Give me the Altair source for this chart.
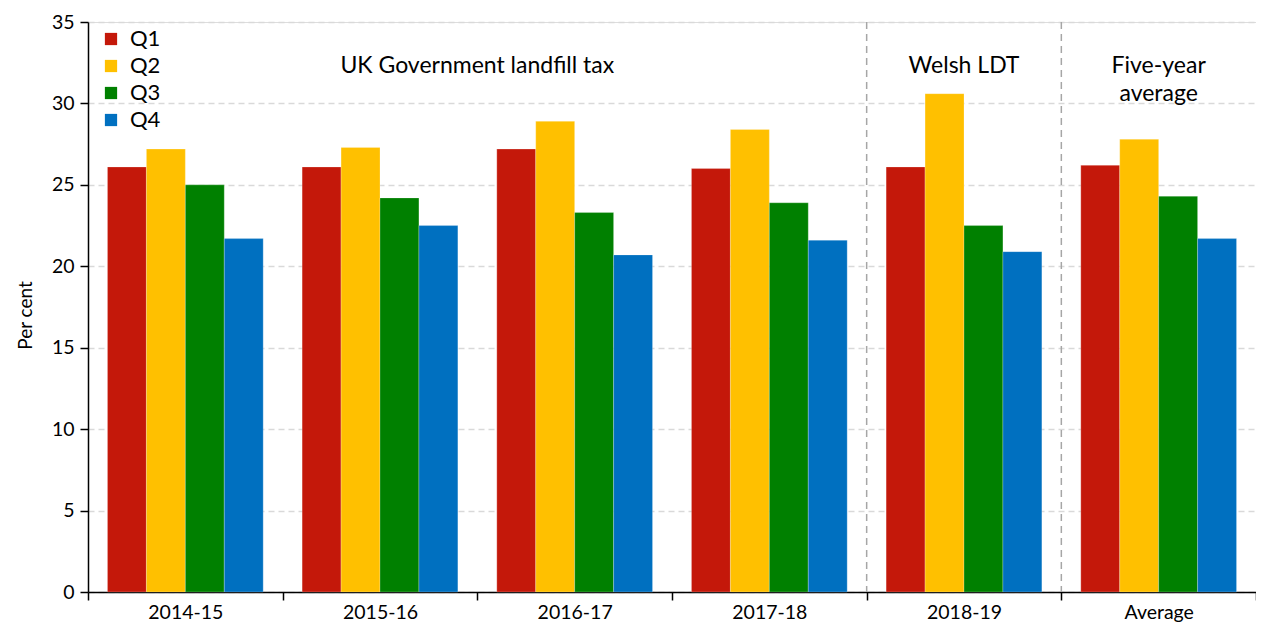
import altair as alt
import pandas as pd

years = ["2014-15", "2015-16", "2016-17", "2017-18", "2018-19", "Average"]
quarters = ["Q1", "Q2", "Q3", "Q4"]
q1 = [26.1, 26.1, 27.2, 26.0, 26.1, 26.2]
q2 = [27.2, 27.3, 28.9, 28.4, 30.6, 27.8]
q3 = [25.0, 24.2, 23.3, 23.9, 22.5, 24.3]
q4 = [21.7, 22.5, 20.7, 21.6, 20.9, 21.7]
colors = ["#C4180A", "#FFC000", "#008000", "#0070C0"]
separators = ["2018-19", "Average"]

rows = []
for q, vals in zip(quarters, [q1, q2, q3, q4]):
    for y, v in zip(years, vals):
        rows.append({"year": y, "quarter": q, "value": v})
df = pd.DataFrame(rows)

FONT = "Lato"
W, H = 1168, 570

xscale = alt.Scale(domain=years, paddingInner=0, paddingOuter=0)
yscale = alt.Scale(domain=[0, 35])

bars = alt.Chart(df).mark_bar(stroke="white", strokeWidth=0.4, strokeOpacity=0.6).encode(
    x=alt.X("year:N", scale=xscale, sort=years,
            axis=alt.Axis(title=None, labelFontSize=19.5, labelColor="black", labelFont=FONT,
                          tickBand="extent", tickSize=8, tickColor="black", domainColor="black",
                          domainWidth=1.5, tickWidth=1.5, labelPadding=3, labelAngle=0)),
    xOffset=alt.XOffset("quarter:N", sort=quarters,
                        scale=alt.Scale(paddingInner=0, paddingOuter=0.5)),
    y=alt.Y("value:Q", scale=yscale,
            axis=alt.Axis(title="Per cent", titleFontSize=19, titleFontWeight="normal",
                          titleFont=FONT, titleColor="black", titlePadding=16, titleY=293,
                          values=[0, 5, 10, 15, 20, 25, 30, 35], labelFontSize=19.5,
                          labelFont=FONT, labelColor="black", tickColor="black", tickSize=8,
                          tickWidth=1.5, domainColor="black", domainWidth=1.5,
                          gridColor="#d9d9d9", gridDash=[6, 4], gridWidth=1.5, labelPadding=6)),
    color=alt.Color("quarter:N", sort=quarters,
                    scale=alt.Scale(domain=quarters, range=colors),
                    legend=alt.Legend(title=None, orient="none", legendX=12, legendY=6,
                                      symbolType="square", symbolSize=150, symbolStrokeWidth=0,
                                      labelFontSize=22, labelFont=FONT, labelColor="black",
                                      rowPadding=5, padding=0, labelOffset=8)),
)

sep_df = pd.DataFrame({"year": separators})
rules = alt.Chart(sep_df).mark_rule(color="#a6a6a6", strokeDash=[7, 5], strokeWidth=1.5).encode(
    x=alt.X("year:N", bandPosition=0, scale=xscale),
    y=alt.value(0),
    y2=alt.value(H),
)

uk = alt.Chart(pd.DataFrame({"year": ["2016-17"], "v": [32.3], "t": ["UK Government landfill tax"]})).mark_text(
    fontSize=23, font=FONT, color="black", baseline="middle", align="center").encode(
    x=alt.X("year:N", bandPosition=0, scale=xscale), y=alt.Y("v:Q", scale=yscale), text="t:N")

welsh = alt.Chart(pd.DataFrame({"year": ["2018-19"], "v": [32.3], "t": ["Welsh LDT"]})).mark_text(
    fontSize=23, font=FONT, color="black", baseline="middle", align="center").encode(
    x=alt.X("year:N", bandPosition=0.5, scale=xscale), y=alt.Y("v:Q", scale=yscale), text="t:N")

avg = alt.Chart(pd.DataFrame({"year": ["Average"], "v": [32.3], "t": ["Five-year\naverage"]})).mark_text(
    fontSize=23, font=FONT, color="black", baseline="middle", align="center",
    lineBreak="\n", lineHeight=28).encode(
    x=alt.X("year:N", bandPosition=0.5, scale=xscale), y=alt.Y("v:Q", scale=yscale), text="t:N")

chart = alt.layer(bars, rules, uk, welsh, avg).properties(
    width=W, height=H,
    autosize=alt.AutoSizeParams(type="none"),
    padding={"left": 80, "top": 14, "right": 0, "bottom": 38},
).configure_view(stroke=None).configure(background="white")

chart.save("out.html", embed_options={"renderer": "svg", "actions": False})
